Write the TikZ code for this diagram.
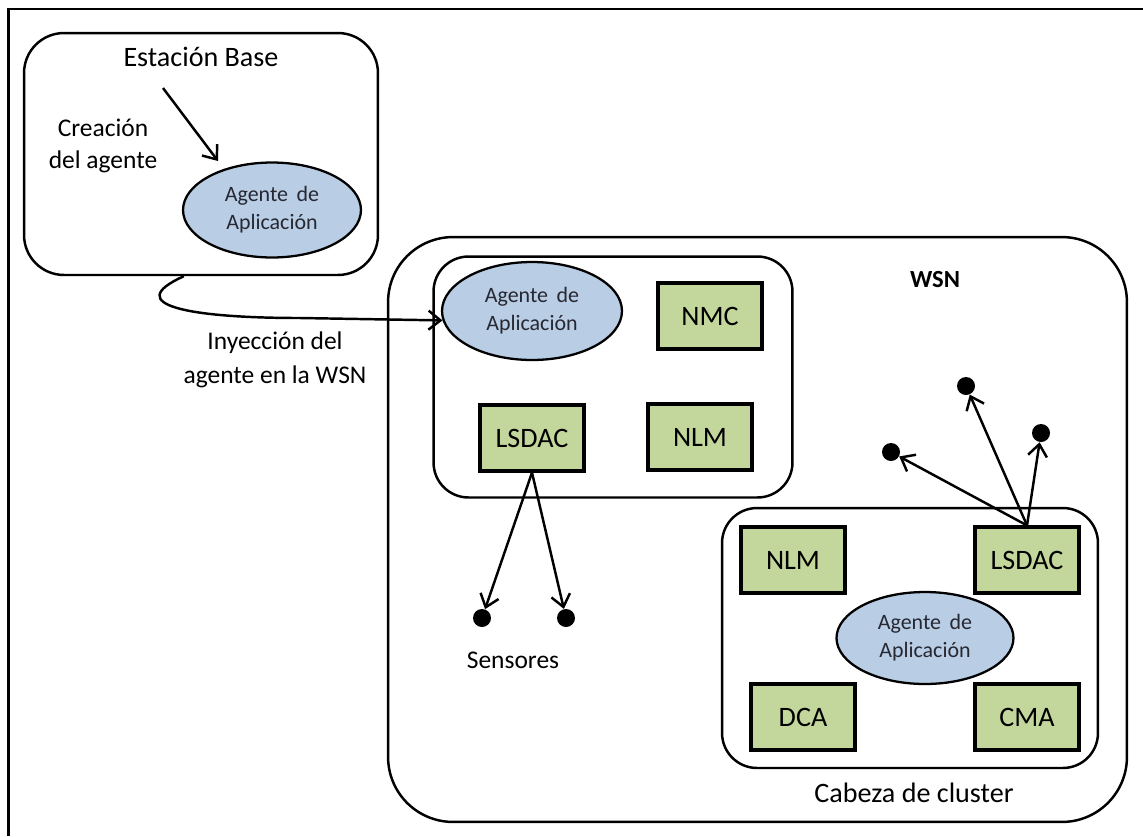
\documentclass[tikz,border=0pt]{standalone}
\usepackage{fontspec}
\setmainfont{Carlito}
\usepackage{xcolor}
\usetikzlibrary{arrows.meta, positioning, shapes.geometric}
\definecolor{agentBlue}{RGB}{185,205,229}
\definecolor{moduleGreen}{RGB}{195,214,155}
\definecolor{agentInk}{RGB}{38,40,50}

\begin{document}
\begin{tikzpicture}[
    x=0.02cm, y=-0.02cm,
    container/.style={draw, line width=1.4pt, rounded corners=#1, inner sep=0pt},
    container/.default=0.7cm,
    agent/.style={ellipse, draw, fill=agentBlue, line width=1.3pt, inner sep=0pt, align=center, text=agentInk, minimum width=3.56cm, minimum height=1.9cm, font=\fontsize{12.5}{16}\selectfont},
    module/.style={draw, fill=moduleGreen, line width=1.8pt, inner sep=0pt, minimum width=2.08cm, minimum height=1.32cm, font=\fontsize{16}{19}\selectfont},
    sensor/.style={circle, fill=black, inner sep=0pt, minimum size=0.36cm},
    label/.style={align=center, font=\fontsize{14.5}{19}\selectfont},
    arrow/.style={-{Straight Barb[length=2.4mm, width=3.8mm]}, line width=1.4pt}
]
    \useasboundingbox (0,0) rectangle (1143,836);
    \draw[line width=1.2pt] (8.5,836) -- (8.5,9) -- (1143,9);

    % estacion base
    \node[container=0.8cm, minimum width=7.08cm, minimum height=4.84cm] (base) at (201,154) {};
    \node[font=\fontsize{16}{19}\selectfont] (baseTitle) at (201,57) {Estación Base};
    \node[agent] (agentBase) at (272,210) {Agente\, de\\Aplicación};
    \node[label, font=\fontsize{14.5}{18}\selectfont] (creaLabel) at (103,146) {Creación\\del agente};
    \coordinate (creaStart) at (163,88);
    \coordinate (creaEnd) at (218,161);
    \draw[arrow] (creaStart) -- (creaEnd);

    % red de sensores
    \node[container=1.3cm, minimum width=14.78cm, minimum height=11.7cm] (wsn) at (757.5,529.5) {};
    \node[font=\fontsize{14}{17}\selectfont\bfseries] (wsnLabel) at (935,280) {WSN};

    % nodo de la WSN
    \node[container, minimum width=7.18cm, minimum height=4.82cm] (wsnNode) at (613,377) {};
    \node[agent, minimum width=3.6cm, minimum height=1.96cm] (agentWsn) at (532,311) {Agente\, de\\Aplicación};
    \node[module] (nmc) at (710,316) {NMC};
    \node[module] (lsdacNode) at (532,438) {LSDAC};
    \node[module] (nlmNode) at (700,437) {NLM};
    \node[sensor] (sensA) at (482,618) {};
    \node[sensor] (sensB) at (566,618) {};
    \node[label] (sensLabel) at (513,660) {Sensores};
    \draw[arrow] (lsdacNode.south) -- (sensA);
    \draw[arrow] (lsdacNode.south) -- (sensB);

    % cabeza de cluster
    \node[container, minimum width=7.52cm, minimum height=5.2cm] (cluster) at (910,638) {};
    \node[module] (nlmHead) at (793,560) {NLM};
    \node[module] (lsdacHead) at (1027,560) {LSDAC};
    \node[agent, minimum width=3.54cm, minimum height=1.84cm] (agentHead) at (925,638) {Agente\, de\\Aplicación};
    \node[module] (dca) at (803,717) {DCA};
    \node[module] (cma) at (1027,717) {CMA};
    \node[font=\fontsize{16}{19}\selectfont] (clusterLabel) at (914,793) {Cabeza de cluster};
    \node[sensor] (sensC) at (891,452) {};
    \node[sensor] (sensD) at (966,386) {};
    \node[sensor] (sensE) at (1041,433) {};
    \draw[arrow] (lsdacHead.north) -- (sensC);
    \draw[arrow] (lsdacHead.north) -- (sensD);
    \draw[arrow] (lsdacHead.north) -- (sensE);

    % inyeccion
    \draw[arrow] (base.262) .. controls (120,305) and (190,318) .. (300,318) -- (agentWsn.186);
    \node[label] (injLabel) at (275,360) {Inyección del\\agente en la WSN};
\end{tikzpicture}
\end{document}
